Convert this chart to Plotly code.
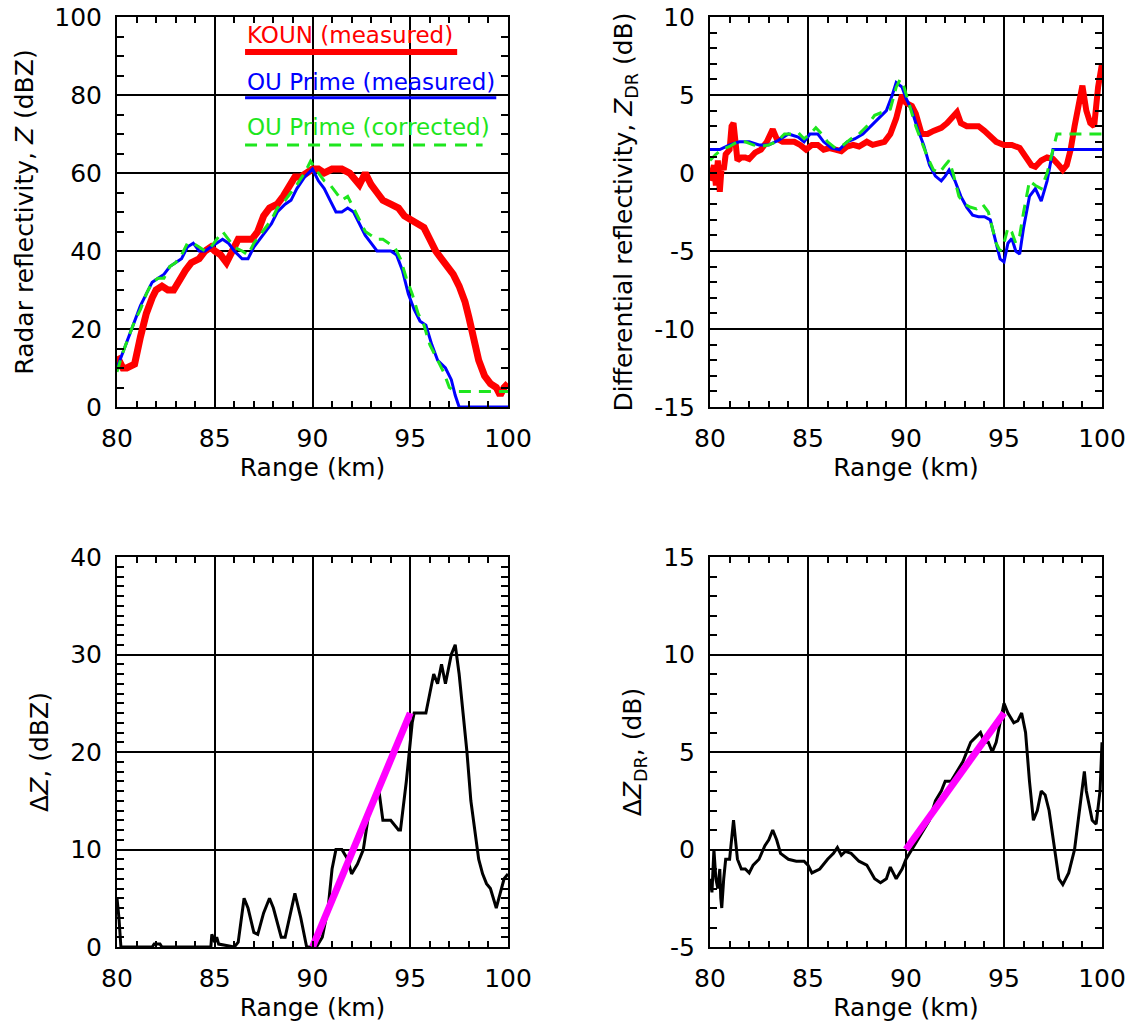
import plotly.graph_objects as go

# ---------------- data ----------------
# Panel 1: radar reflectivity Z (dBZ)
koun_z_x = [80.0, 80.3, 80.5, 80.9, 81.2, 81.5, 81.8, 82.0, 82.3, 82.6, 82.9, 83.2, 83.5, 83.8, 84.2, 84.5,
            84.8, 85.0, 85.3, 85.6, 85.9, 86.2, 86.6, 86.9, 87.2, 87.5, 87.8, 88.2, 88.5, 88.8, 89.1, 89.4,
            89.7, 90.0, 90.3, 90.6, 91.0, 91.5, 91.9, 92.2, 92.4, 92.7, 93.0, 93.3, 93.6, 94.0, 94.4, 94.7,
            95.0, 95.4, 95.7, 96.0, 96.3, 96.6, 96.9, 97.2, 97.5, 97.8, 98.0, 98.3, 98.5, 98.8, 99.1, 99.4,
            99.6, 99.8, 100.0]
koun_z_y = [13, 10, 10, 11, 18, 24, 28, 30, 31, 30, 30, 33, 35, 37, 38, 40,
            41, 40, 39, 37, 40, 43, 43, 43, 45, 49, 51, 52, 54, 57, 59, 59,
            60, 61, 61, 60, 61, 61, 60, 58, 57, 60, 57, 55, 53, 52, 51, 49,
            48, 47, 46, 43, 40, 38, 36, 34, 31, 27, 23, 17, 12, 8, 6, 5,
            3, 5, 6]

oup_z_x = [80.0, 80.3, 80.6, 80.9, 81.2, 81.5, 81.8, 82.1, 82.4, 82.7, 83.0, 83.3, 83.6, 83.9, 84.2, 84.5,
           84.8, 85.1, 85.4, 85.7, 86.0, 86.4, 86.7, 87.0, 87.3, 87.6, 87.9, 88.2, 88.6, 88.9, 89.2, 89.6,
           90.0, 90.3, 90.6, 90.9, 91.2, 91.5, 91.8, 92.1, 92.4, 92.7, 93.0, 93.3, 93.6, 94.0, 94.3, 94.6,
           94.9, 95.2, 95.5, 95.8, 96.1, 96.4, 96.8, 97.1, 97.3, 97.5, 100.0]
oup_z_y = [10, 14, 18, 22, 26, 29, 32, 33, 34, 36, 37, 38, 41, 42, 40, 40,
           41, 42, 43, 42, 40, 38, 38, 41, 43, 45, 47, 50, 52, 53, 56, 59,
           61, 58, 56, 53, 50, 50, 51, 50, 47, 44, 42, 40, 40, 40, 39, 35,
           29, 25, 22, 21, 16, 12, 10, 7, 3, 0, 0]

oupc_z_x = [80.0, 80.3, 80.6, 80.9, 81.2, 81.5, 81.8, 82.1, 82.4, 82.7, 83.0, 83.3, 83.6, 83.9, 84.2, 84.5,
            84.8, 85.1, 85.4, 85.7, 86.0, 86.4, 86.7, 87.0, 87.3, 87.6, 87.9, 88.2, 88.6, 88.9, 89.2, 89.6,
            89.9, 90.3, 90.6, 90.9, 91.2, 91.5, 91.8, 92.1, 92.4, 92.7, 93.0, 93.3, 93.6, 93.9, 94.2, 94.5,
            94.8, 95.1, 95.4, 95.7, 96.0, 96.3, 96.7, 97.0, 97.3, 100.0]
oupc_z_y = [9, 14, 18, 22, 25, 29, 32, 33, 33, 36, 37, 39, 42, 42, 41, 40,
            41, 43, 45, 43, 41, 40, 39, 42, 44, 46, 48, 51, 53, 55, 57, 60,
            63, 60, 58, 57, 55, 53, 54, 51, 48, 45, 44, 43, 43, 42, 41, 38,
            33, 29, 24, 21, 16, 13, 9, 5, 4, 4]

# Panel 2: differential reflectivity ZDR (dB)
koun_zdr_x = [80.0, 80.2, 80.3, 80.4, 80.5, 80.6, 80.7, 80.8, 81.0, 81.1, 81.2, 81.3, 81.4, 81.6, 81.8, 82.0,
              82.3, 82.6, 82.9, 83.2, 83.4, 83.7, 84.0, 84.3, 84.6, 84.9, 85.2, 85.5, 85.8, 86.1, 86.4, 86.7,
              87.0, 87.3, 87.6, 88.0, 88.3, 88.6, 88.9, 89.2, 89.5, 89.8, 90.0, 90.3, 90.5, 90.8, 91.1, 91.4,
              91.8, 92.1, 92.4, 92.6, 92.8, 93.1, 93.4, 93.7, 94.0, 94.3, 94.6, 95.0, 95.4, 95.8, 96.1, 96.4,
              96.6, 96.9, 97.2, 97.5, 97.8, 98.0, 98.2, 98.4, 98.6, 98.8, 99.0, 99.2, 99.4, 99.6, 99.8, 100.0]
koun_zdr_y = [-0.5, 0.5, -0.8, 0.8, -1.2, 0.5, 0.2, 1.2, 1.5, 3.0, 3.2, 1.5, 0.8, 1.0, 1.0, 0.9,
              1.3, 1.5, 2.0, 2.8, 2.2, 2.0, 2.0, 2.0, 1.8, 1.5, 1.8, 1.8, 1.5, 1.6, 1.5, 1.4,
              1.7, 1.8, 1.7, 2.0, 1.8, 1.9, 2.0, 2.5, 3.5, 5.0, 4.5, 4.3, 3.8, 2.5, 2.5, 2.7,
              2.9, 3.2, 3.7, 3.9, 3.2, 3.0, 3.0, 3.0, 2.7, 2.3, 2.0, 1.8, 1.8, 1.6, 1.1, 0.5,
              0.4, 0.8, 1.0, 0.9, 0.5, 0.2, 0.5, 1.5, 3.0, 4.5, 5.6, 4.0, 3.2, 3.0, 5.5, 7.0]

oup_zdr_x = [80.0, 80.5, 81.0, 81.5, 82.0, 82.5, 83.0, 83.5, 84.0, 84.5, 84.8, 85.1, 85.5, 85.8, 86.2, 86.6,
             87.0, 87.4, 87.8, 88.2, 88.6, 89.0, 89.3, 89.5, 89.8, 90.0, 90.3, 90.6, 90.9, 91.2, 91.5, 91.8,
             92.0, 92.2, 92.5, 92.8, 93.1, 93.4, 93.7, 94.0, 94.3, 94.6, 94.8, 95.0, 95.2, 95.4, 95.6, 95.8,
             96.0, 96.3, 96.6, 96.9, 97.2, 97.5, 100.0]
oup_zdr_y = [1.5, 1.5, 1.8, 2.0, 2.0, 1.8, 1.8, 2.1, 2.5, 2.3, 2.0, 2.5, 2.5, 2.0, 1.6, 1.5,
             2.0, 2.2, 2.5, 3.0, 3.5, 4.0, 5.0, 5.8, 5.5, 4.8, 4.0, 2.8, 1.8, 0.5, -0.2, -0.5,
             -0.2, 0.2, -0.5, -1.5, -2.2, -2.7, -2.8, -2.8, -3.0, -4.5, -5.5, -5.7, -4.5, -4.2, -5.0, -5.2,
             -3.5, -1.5, -1.0, -1.8, -0.5, 1.5, 1.5]

oupc_zdr_x = [80.0, 80.3, 80.6, 81.0, 81.4, 81.8, 82.2, 82.6, 83.0, 83.4, 83.8, 84.2, 84.5, 84.8, 85.1, 85.4,
              85.7, 86.0, 86.4, 86.8, 87.2, 87.6, 88.0, 88.4, 88.8, 89.2, 89.5, 89.7, 89.9, 90.2, 90.5, 90.8,
              91.1, 91.4, 91.7, 92.0, 92.2, 92.4, 92.7, 93.0, 93.3, 93.6, 93.9, 94.2, 94.4, 94.6, 94.8, 95.0,
              95.2, 95.4, 95.6, 95.8, 96.0, 96.3, 96.6, 96.9, 97.2, 97.5, 97.7, 100.0]
oupc_zdr_y = [0.8, 1.2, 1.5, 1.7, 2.0, 2.0, 1.8, 1.7, 1.8, 2.0, 2.5, 2.5, 2.6, 2.2, 2.5, 2.9,
              2.5, 2.0, 1.6, 1.8, 2.2, 2.5, 3.0, 3.7, 3.9, 4.1, 5.5, 6.0, 5.5, 4.2, 3.0, 2.0,
              1.0, 0.2, 0.0, 0.5, 0.8, 0.0, -1.5, -2.0, -2.2, -2.3, -2.0, -2.5, -3.5, -4.5, -5.0, -4.5,
              -3.5, -3.8, -4.5, -4.0, -2.5, -0.5, -0.8, -1.0, 0.0, 1.5, 2.5, 2.5]

# Panel 3: delta Z (dBZ)
dz_x = [80.0, 80.1, 80.2, 81.8, 81.9, 82.2, 82.3, 84.8, 84.85, 85.0, 85.1, 85.2, 86.0, 86.2, 86.5, 86.7,
        87.0, 87.2, 87.5, 87.8, 88.0, 88.4, 88.6, 89.0, 89.1, 89.4, 89.7, 90.2, 90.5, 90.8, 91.0, 91.2,
        91.5, 91.8, 92.0, 92.3, 92.6, 92.9, 93.1, 93.4, 93.6, 94.0, 94.4, 94.5, 94.8, 95.0, 95.1, 95.2,
        95.5, 95.8, 96.0, 96.2, 96.4, 96.6, 96.8, 96.9, 97.1, 97.3, 97.5, 97.7, 97.9, 98.1, 98.3, 98.5,
        98.7, 98.9, 99.1, 99.4, 99.6, 99.8, 100.0]
dz_y = [5, 3, 0, 0, 0.3, 0.3, 0, 0, 1.3, 0.5, 1.0, 0.3, 0, 0.5, 5.0, 4.0,
        1.5, 1.3, 3.5, 5.0, 4.0, 1.0, 1.0, 4.5, 5.5, 3.0, 0, 0, 1.0, 4.0, 8.0, 10.0,
        10.0, 9.0, 7.5, 8.5, 10.0, 14.0, 15.0, 16.0, 13.0, 13.0, 12.0, 12.0, 17.0, 21.0, 23.0, 24.0,
        24.0, 24.0, 26.0, 28.0, 27.0, 29.0, 27.0, 28.0, 30.0, 31.0, 28.0, 24.0, 20.0, 15.0, 12.0, 9.0,
        7.5, 6.5, 6.0, 4.0, 5.5, 7.0, 7.5]
dz_fit_x = [90.0, 95.0]
dz_fit_y = [0.0, 24.0]

# Panel 4: delta ZDR (dB)
dzdr_x = [80.0, 80.1, 80.2, 80.3, 80.4, 80.5, 80.55, 80.6, 80.7, 80.8, 81.0, 81.1, 81.2, 81.3, 81.4, 81.6,
          81.8, 82.0, 82.2, 82.5, 82.8, 83.0, 83.2, 83.4, 83.6, 84.0, 84.4, 84.8, 85.0, 85.2, 85.6, 86.0,
          86.3, 86.5, 86.7, 86.9, 87.2, 87.6, 88.0, 88.4, 88.7, 89.0, 89.2, 89.5, 89.8, 90.0, 90.3, 90.6,
          90.9, 91.2, 91.5, 91.8, 92.0, 92.3, 92.6, 92.9, 93.1, 93.3, 93.6, 93.8, 94.0, 94.2, 94.4, 94.6,
          94.8, 95.0, 95.2, 95.5, 95.7, 95.9, 96.1, 96.3, 96.5, 96.7, 96.9, 97.1, 97.3, 97.6, 97.8, 98.0,
          98.3, 98.6, 98.9, 99.1, 99.2, 99.5, 99.7, 99.9, 100.0]
dzdr_y = [-1.5, -2.2, 0.0, -1.5, -2.0, -1.0, -2.5, -3.0, -1.5, -0.5, -0.5, 0.5, 1.5, 0.5, -0.5, -1.0,
          -1.0, -1.2, -0.8, -0.5, 0.2, 0.5, 1.0, 0.5, -0.2, -0.5, -0.6, -0.6, -0.8, -1.2, -1.0, -0.5,
          -0.2, 0.1, -0.3, -0.1, -0.2, -0.6, -0.8, -1.5, -1.7, -1.5, -0.9, -1.5, -1.0, -0.5, 0.0, 0.5,
          1.0, 1.5, 2.5, 3.0, 3.5, 3.5, 4.0, 4.5, 5.0, 5.5, 5.8, 6.0, 5.5, 5.5, 5.0, 5.5,
          6.5, 7.5, 7.0, 6.5, 6.6, 7.0, 6.0, 3.5, 1.5, 2.0, 3.0, 2.8, 2.0, 0.0, -1.5, -1.8,
          -1.2, 0.0, 2.5, 4.0, 3.0, 1.5, 1.3, 3.0, 5.5]
dzdr_fit_x = [90.0, 95.0]
dzdr_fit_y = [0.0, 7.0]

x_ticks = [80, 85, 90, 95, 100]
y1_ticks = [0, 20, 40, 60, 80, 100]
y2_ticks = [-15, -10, -5, 0, 5, 10]
y3_ticks = [0, 10, 20, 30, 40]
y4_ticks = [-5, 0, 5, 10, 15]

legend_names = ["KOUN (measured)", "OU Prime (measured)", "OU Prime (corrected)"]

# ---------------- styling ----------------
RED = "#ff0000"
BLUE = "#0000ff"
GREEN = "#1ee61e"
MAG = "#ff00ff"
FONT = "DejaVu Sans"
FS = 25
LFS = 23

W, H = 1130, 1023
col_px = [(117, 508), (710, 1102)]
row_px = [(17, 407), (557, 947)]


def xdom(c):
    return [col_px[c][0] / W, col_px[c][1] / W]


def ydom(r):
    return [1 - row_px[r][1] / H, 1 - row_px[r][0] / H]


fig = go.Figure()

# panel 1
fig.add_trace(go.Scatter(x=koun_z_x, y=koun_z_y, mode="lines", line=dict(color=RED, width=7),
                         name=legend_names[0], xaxis="x", yaxis="y"))
fig.add_trace(go.Scatter(x=oup_z_x, y=oup_z_y, mode="lines", line=dict(color=BLUE, width=3),
                         name=legend_names[1], xaxis="x", yaxis="y"))
fig.add_trace(go.Scatter(x=oupc_z_x, y=oupc_z_y, mode="lines", line=dict(color=GREEN, width=3, dash="12px,8px"),
                         name=legend_names[2], xaxis="x", yaxis="y"))
# panel 2
fig.add_trace(go.Scatter(x=koun_zdr_x, y=koun_zdr_y, mode="lines", line=dict(color=RED, width=6),
                         name=legend_names[0], xaxis="x2", yaxis="y2"))
fig.add_trace(go.Scatter(x=oup_zdr_x, y=oup_zdr_y, mode="lines", line=dict(color=BLUE, width=3),
                         name=legend_names[1], xaxis="x2", yaxis="y2"))
fig.add_trace(go.Scatter(x=oupc_zdr_x, y=oupc_zdr_y, mode="lines", line=dict(color=GREEN, width=3, dash="12px,8px"),
                         name=legend_names[2], xaxis="x2", yaxis="y2"))
# panel 3
fig.add_trace(go.Scatter(x=dz_x, y=dz_y, mode="lines", line=dict(color="black", width=3),
                         name="dZ", xaxis="x3", yaxis="y3"))
fig.add_trace(go.Scatter(x=dz_fit_x, y=dz_fit_y, mode="lines", line=dict(color=MAG, width=7),
                         name="fit", xaxis="x3", yaxis="y3"))
# panel 4
fig.add_trace(go.Scatter(x=dzdr_x, y=dzdr_y, mode="lines", line=dict(color="black", width=3),
                         name="dZDR", xaxis="x4", yaxis="y4"))
fig.add_trace(go.Scatter(x=dzdr_fit_x, y=dzdr_fit_y, mode="lines", line=dict(color=MAG, width=7),
                         name="fit", xaxis="x4", yaxis="y4"))


def xaxis(c, r, anchor):
    return dict(domain=xdom(c), anchor=anchor, range=[80, 100], tickvals=x_ticks,
                ticktext=[str(v) for v in x_ticks],
                showgrid=True, gridcolor="black", gridwidth=2, zeroline=False,
                showline=True, linecolor="black", linewidth=2, mirror="ticks",
                ticks="inside", ticklen=6, tickwidth=2, tickcolor="black",
                minor=dict(dtick=1, ticks="inside", ticklen=6, tickwidth=2, tickcolor="black", showgrid=False),
                ticklabelstandoff=8,
                tickfont=dict(family=FONT, size=FS, color="black"),
                title=dict(text="Range (km)", font=dict(family=FONT, size=FS, color="black"), standoff=5),
                automargin=False, fixedrange=True)


def yaxis(c, r, anchor, rng, ticks, minor_dtick, title, standoff):
    return dict(domain=ydom(r), anchor=anchor, range=rng, tickvals=ticks,
                ticktext=[str(v) for v in ticks],
                showgrid=True, gridcolor="black", gridwidth=2, zeroline=False,
                showline=True, linecolor="black", linewidth=2, mirror="ticks",
                ticks="inside", ticklen=7, tickwidth=2, tickcolor="black",
                minor=dict(dtick=minor_dtick, ticks="inside", ticklen=7, tickwidth=2, tickcolor="black", showgrid=False),
                ticklabelstandoff=8,
                tickfont=dict(family=FONT, size=FS, color="black"),
                title=dict(text=title, font=dict(family=FONT, size=FS, color="black"), standoff=standoff),
                automargin=False, fixedrange=True)


fig.update_layout(
    width=W, height=H,
    margin=dict(l=0, r=0, t=0, b=0),
    paper_bgcolor="white", plot_bgcolor="white",
    showlegend=False,
    font=dict(family=FONT, size=FS, color="black"),
    xaxis=xaxis(0, 0, "y"),
    yaxis=yaxis(0, 0, "x", [0, 100], y1_ticks, 5, "Radar reflectivity, <i>Z</i> (dBZ)", 14),
    xaxis2=xaxis(1, 0, "y2"),
    yaxis2=yaxis(1, 0, "x2", [-15, 10], y2_ticks, 1, "Differential reflectivity, <i>Z</i><sub>DR</sub> (dB)", 14),
    xaxis3=xaxis(0, 1, "y3"),
    yaxis3=yaxis(0, 1, "x3", [0, 40], y3_ticks, 1, "Δ<i>Z</i>, (dBZ)", 14),
    xaxis4=xaxis(1, 1, "y4"),
    yaxis4=yaxis(1, 1, "x4", [-5, 15], y4_ticks, 1, "Δ<i>Z</i><sub>DR</sub>, (dB)", 14),
)

# in-plot legend of panel 1: coloured text with line sample beneath
leg_colors = [RED, BLUE, GREEN]
leg_text_y = [95.4, 83.3, 71.8]
leg_line_y = [91.0, 79.3, 67.2]
leg_line_x0 = 86.55
leg_line_x1 = [97.4, 99.4, 98.7]
leg_widths = [6, 3, 3]
leg_dash = ["solid", "solid", "12px,9px"]
for i in range(3):
    fig.add_annotation(x=leg_line_x0, y=leg_text_y[i], xref="x", yref="y", text=legend_names[i],
                       showarrow=False, xanchor="left", yanchor="middle",
                       font=dict(family=FONT, size=LFS, color=leg_colors[i]))
    fig.add_shape(type="line", xref="x", yref="y", x0=leg_line_x0, x1=leg_line_x1[i],
                  y0=leg_line_y[i], y1=leg_line_y[i],
                  line=dict(color=leg_colors[i], width=leg_widths[i], dash=leg_dash[i]))

fig.write_html("out.html", config={"displayModeBar": False},
               post_script="document.body.style.margin='0';document.body.style.overflow='hidden';")
